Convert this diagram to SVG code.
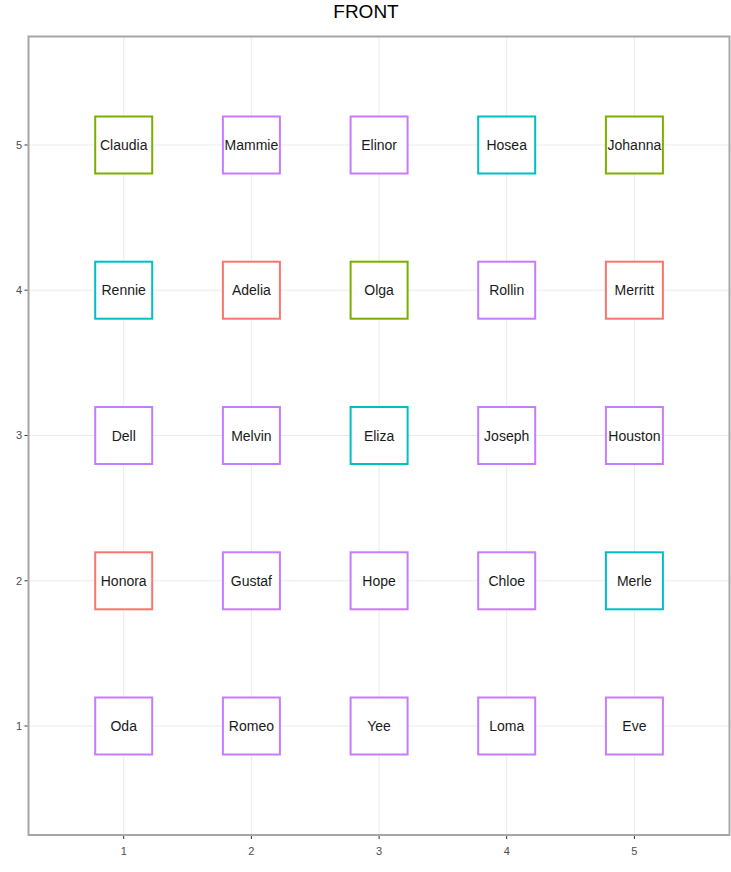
<svg xmlns="http://www.w3.org/2000/svg" width="731" height="872" viewBox="0 0 731 872">
<style>
.grid{stroke:#ebebeb;stroke-width:1;fill:none}
.tick{stroke:#333;stroke-width:1}
.tl{font-family:"Liberation Sans",Arial,sans-serif;font-size:11px;fill:#4d4d4d}
.box{fill:#fff;stroke-width:2}
.g{stroke:#7CAE00}.p{stroke:#C77CFF}.c{stroke:#00BFC4}.r{stroke:#F8766D}
.lab{font-family:"Liberation Sans",Arial,sans-serif;font-size:14px;fill:#1a1a1a;text-anchor:middle}
</style>
<rect width="731" height="872" fill="#fff"/>
<text x="366" y="18" style="font-family:'Liberation Sans',Arial,sans-serif;font-size:19px;fill:#000" text-anchor="middle">FRONT</text>
<g id="grid">
<path class="grid" d="M123.7 37V835M251.4 37V835M379.1 37V835M506.7 37V835M634.4 37V835M29 145H729M29 290.2H729M29 435.5H729M29 580.8H729M29 726H729"/>
</g>
<rect x="28.5" y="36.5" width="701" height="798.5" fill="none" stroke="#a6a6a6" stroke-width="2"/>
<g id="axes">
<path class="tick" d="M24.5 145H27.5M24.5 290.2H27.5M24.5 435.5H27.5M24.5 580.8H27.5M24.5 726H27.5M123.7 836V839M251.4 836V839M379.1 836V839M506.7 836V839M634.4 836V839"/>
<g class="tl" text-anchor="end">
<text x="22" y="149">5</text><text x="22" y="294">4</text><text x="22" y="439">3</text><text x="22" y="585">2</text><text x="22" y="730">1</text>
</g>
<g class="tl" text-anchor="middle">
<text x="123.7" y="855">1</text><text x="251.4" y="855">2</text><text x="379.1" y="855">3</text><text x="506.7" y="855">4</text><text x="634.4" y="855">5</text>
</g>
</g>
<g id="connectors"></g>
<g id="Claudia"><rect class="box g" x="95.2" y="116.5" width="57" height="57"/><text class="lab" x="123.7" y="150">Claudia</text></g>
<g id="Mammie"><rect class="box p" x="222.9" y="116.5" width="57" height="57"/><text class="lab" x="251.4" y="150">Mammie</text></g>
<g id="Elinor"><rect class="box p" x="350.6" y="116.5" width="57" height="57"/><text class="lab" x="379.1" y="150">Elinor</text></g>
<g id="Hosea"><rect class="box c" x="478.2" y="116.5" width="57" height="57"/><text class="lab" x="506.7" y="150">Hosea</text></g>
<g id="Johanna"><rect class="box g" x="605.9" y="116.5" width="57" height="57"/><text class="lab" x="634.4" y="150">Johanna</text></g>
<g id="Rennie"><rect class="box c" x="95.2" y="261.7" width="57" height="57"/><text class="lab" x="123.7" y="295.2">Rennie</text></g>
<g id="Adelia"><rect class="box r" x="222.9" y="261.7" width="57" height="57"/><text class="lab" x="251.4" y="295.2">Adelia</text></g>
<g id="Olga"><rect class="box g" x="350.6" y="261.7" width="57" height="57"/><text class="lab" x="379.1" y="295.2">Olga</text></g>
<g id="Rollin"><rect class="box p" x="478.2" y="261.7" width="57" height="57"/><text class="lab" x="506.7" y="295.2">Rollin</text></g>
<g id="Merritt"><rect class="box r" x="605.9" y="261.7" width="57" height="57"/><text class="lab" x="634.4" y="295.2">Merritt</text></g>
<g id="Dell"><rect class="box p" x="95.2" y="407" width="57" height="57"/><text class="lab" x="123.7" y="440.5">Dell</text></g>
<g id="Melvin"><rect class="box p" x="222.9" y="407" width="57" height="57"/><text class="lab" x="251.4" y="440.5">Melvin</text></g>
<g id="Eliza"><rect class="box c" x="350.6" y="407" width="57" height="57"/><text class="lab" x="379.1" y="440.5">Eliza</text></g>
<g id="Joseph"><rect class="box p" x="478.2" y="407" width="57" height="57"/><text class="lab" x="506.7" y="440.5">Joseph</text></g>
<g id="Houston"><rect class="box p" x="605.9" y="407" width="57" height="57"/><text class="lab" x="634.4" y="440.5">Houston</text></g>
<g id="Honora"><rect class="box r" x="95.2" y="552.3" width="57" height="57"/><text class="lab" x="123.7" y="585.8">Honora</text></g>
<g id="Gustaf"><rect class="box p" x="222.9" y="552.3" width="57" height="57"/><text class="lab" x="251.4" y="585.8">Gustaf</text></g>
<g id="Hope"><rect class="box p" x="350.6" y="552.3" width="57" height="57"/><text class="lab" x="379.1" y="585.8">Hope</text></g>
<g id="Chloe"><rect class="box p" x="478.2" y="552.3" width="57" height="57"/><text class="lab" x="506.7" y="585.8">Chloe</text></g>
<g id="Merle"><rect class="box c" x="605.9" y="552.3" width="57" height="57"/><text class="lab" x="634.4" y="585.8">Merle</text></g>
<g id="Oda"><rect class="box p" x="95.2" y="697.5" width="57" height="57"/><text class="lab" x="123.7" y="731">Oda</text></g>
<g id="Romeo"><rect class="box p" x="222.9" y="697.5" width="57" height="57"/><text class="lab" x="251.4" y="731">Romeo</text></g>
<g id="Yee"><rect class="box p" x="350.6" y="697.5" width="57" height="57"/><text class="lab" x="379.1" y="731">Yee</text></g>
<g id="Loma"><rect class="box p" x="478.2" y="697.5" width="57" height="57"/><text class="lab" x="506.7" y="731">Loma</text></g>
<g id="Eve"><rect class="box p" x="605.9" y="697.5" width="57" height="57"/><text class="lab" x="634.4" y="731">Eve</text></g>
</svg>
